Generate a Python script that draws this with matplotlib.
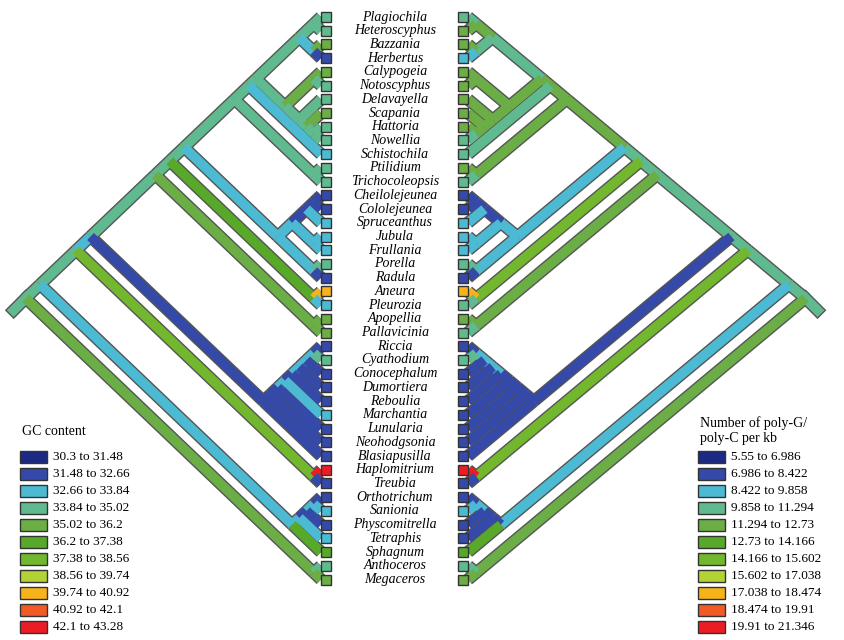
import matplotlib.pyplot as plt
from matplotlib.patches import Rectangle

# taxa, top to bottom
taxa = ["Plagiochila", "Heteroscyphus", "Bazzania", "Herbertus", "Calypogeia", "Notoscyphus",
        "Delavayella", "Scapania", "Hattoria", "Nowellia", "Schistochila", "Ptilidium",
        "Trichocoleopsis", "Cheilolejeunea", "Cololejeunea", "Spruceanthus", "Jubula", "Frullania",
        "Porella", "Radula", "Aneura", "Pleurozia", "Apopellia", "Pallavicinia", "Riccia",
        "Cyathodium", "Conocephalum", "Dumortiera", "Reboulia", "Marchantia", "Lunularia",
        "Neohodgsonia", "Blasiapusilla", "Haplomitrium", "Treubia", "Orthotrichum", "Sanionia",
        "Physcomitrella", "Tetraphis", "Sphagnum", "Anthoceros", "Megaceros"]

# class index of each taxon (0 = lowest bin)
gc_class = [3, 3, 4, 1, 4, 3, 3, 4, 3, 3, 2, 3, 3, 1, 1, 2, 2, 2, 3, 1, 8, 2, 4, 4, 1,
            3, 1, 1, 1, 2, 1, 1, 1, 10, 1, 1, 2, 1, 2, 5, 3, 4]
polyg_class = [3, 4, 4, 2, 4, 4, 4, 4, 4, 3, 3, 4, 3, 1, 1, 2, 2, 2, 3, 1, 8, 3, 4, 3, 1,
               3, 1, 1, 1, 1, 1, 1, 1, 10, 1, 1, 2, 1, 1, 5, 3, 4]

gc_labels = ["30.3 to 31.48", "31.48 to 32.66", "32.66 to 33.84", "33.84 to 35.02", "35.02 to 36.2",
             "36.2 to 37.38", "37.38 to 38.56", "38.56 to 39.74", "39.74 to 40.92", "40.92 to 42.1",
             "42.1 to 43.28"]
pg_labels = ["5.55 to 6.986", "6.986 to 8.422", "8.422 to 9.858", "9.858 to 11.294", "11.294 to 12.73",
             "12.73 to 14.166", "14.166 to 15.602", "15.602 to 17.038", "17.038 to 18.474",
             "18.474 to 19.91", "19.91 to 21.346"]

palette = ["#1c2a86", "#3549a8", "#4cbad3", "#5fbb8f", "#6aae45", "#58a82a", "#73b72f",
           "#b3d335", "#f7b31b", "#f15a24", "#ec1c24"]

# topology
J = (((((("Plagiochila", "Heteroscyphus"), ("Bazzania", "Herbertus")),
       (("Calypogeia", "Notoscyphus"), ("Delavayella", ("Scapania", ("Hattoria", "Nowellia"))))),
      "Schistochila"), ("Ptilidium", "Trichocoleopsis")))
porellales = (((("Cheilolejeunea", "Cololejeunea"), "Spruceanthus"), ("Jubula", "Frullania")),
              ("Porella", "Radula"))
jungerm = (((J, porellales), ("Aneura", "Pleurozia")), ("Apopellia", "Pallavicinia"))
march = ((((((((("Riccia", "Cyathodium"), "Conocephalum"), "Dumortiera"), "Reboulia"),
          "Marchantia"), "Lunularia"), "Neohodgsonia"), "Blasiapusilla"))
liver = ((jungerm, march), ("Haplomitrium", "Treubia"))
mosses = (((("Orthotrichum", "Sanionia"), "Physcomitrella"), "Tetraphis"), "Sphagnum")
tree = ((liver, mosses), ("Anthoceros", "Megaceros"))

y0, dy = 17, 13.72
leaf_y = {t: y0 + i * dy for i, t in enumerate(taxa)}

fig = plt.figure(figsize=(8.44, 6.4), dpi=100)
ax = fig.add_axes([0, 0, 1, 1])
ax.set_xlim(0, 844)
ax.set_ylim(640, 0)
ax.axis("off")


def leaves(node):
    if isinstance(node, str):
        return [node]
    return [l for c in node for l in leaves(c)]


def draw_tree(node, tip_x, k, sign, classes):
    cls = dict(zip(taxa, classes))

    def pos(n):
        ls = leaves(n)
        ys = [leaf_y[l] for l in ls]
        half = (max(ys) - min(ys)) / 2
        col = palette[round(sum(cls[l] for l in ls) / len(ls))]
        return tip_x - sign * k * half, (max(ys) + min(ys)) / 2, col

    def walk(n):
        px, py, _ = pos(n)
        if isinstance(n, str):
            return
        for c in n:
            cx, cy, col = pos(c)
            ax.plot([px, cx], [py, cy], color="#555555", lw=9, solid_capstyle="butt", zorder=1)
            ax.plot([px, cx], [py, cy], color=col, lw=7, solid_capstyle="butt", zorder=2)
            walk(c)

    rx, ry, rcol = pos(node)
    ax.plot([rx - sign * 12, rx], [ry + 12, ry], color="#555555", lw=9, zorder=1)
    ax.plot([rx - sign * 12, rx], [ry + 12, ry], color=rcol, lw=7, zorder=2)
    walk(node)
    for t in taxa:
        bx = tip_x + (0 if sign > 0 else -10)
        ax.add_patch(Rectangle((bx, leaf_y[t] - 5), 10, 10, facecolor=palette[cls[t]],
                               edgecolor="#333333", lw=1, zorder=3))


draw_tree(tree, 321, 1.05, 1, gc_class)
draw_tree(tree, 468, 1.2, -1, polyg_class)

for t in taxa:
    ax.text(395, leaf_y[t], t, ha="center", va="center", fontsize=10, style="italic",
            family="Liberation Serif", zorder=4)


def legend(x, ytitle, title, labels):
    ax.text(x, ytitle, title, fontsize=10, family="Liberation Serif", va="bottom")
    for i, lab in enumerate(labels):
        y = 457 + i * 17
        ax.add_patch(Rectangle((x - 2, y - 6), 27, 12, facecolor=palette[i],
                               edgecolor="#333333", lw=1))
        ax.text(x + 31, y, lab, fontsize=9.5, family="Liberation Serif", va="center")


legend(22, 438, "GC content", gc_labels)
legend(700, 445, "Number of poly-G/\npoly-C per kb", pg_labels)

fig.savefig("out.png", dpi=100)
